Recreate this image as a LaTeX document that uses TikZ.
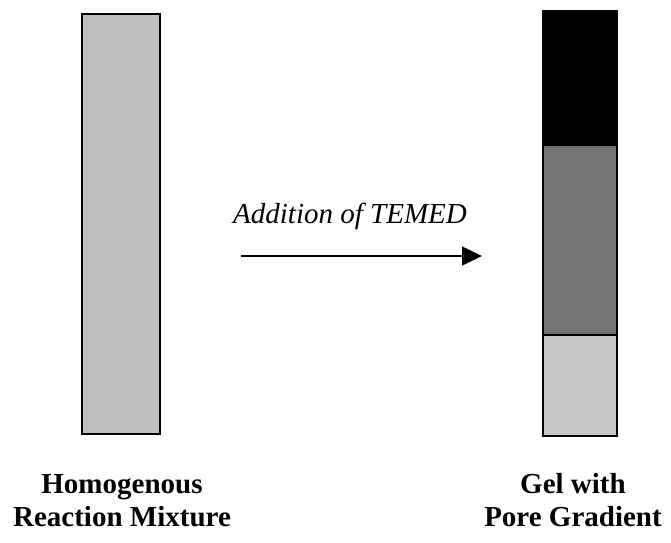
\documentclass[tikz,border=0pt]{standalone}
\usepackage{fontspec}
\setmainfont{Liberation Serif}
\usetikzlibrary{arrows.meta}
\definecolor{mixgray}{gray}{0.75}
\definecolor{densegray}{gray}{0.45}
\definecolor{loosegray}{gray}{0.78}
\tikzset{
  gelbar/.style={draw=black, line width=2.5pt},
  caption/.style={font=\fontsize{29}{33}\selectfont\bfseries, align=center, inner sep=0pt, anchor=base},
  steplabel/.style={font=\fontsize{29}{30}\selectfont\itshape, inner sep=0pt, anchor=base},
  flowarrow/.style={line width=1.6pt, -{Triangle[length=20pt,width=19pt]}}
}
\begin{document}
\begin{tikzpicture}[x=1pt,y=-1pt]
  \useasboundingbox (0,0) rectangle (671,542);

  % homogeneous mixture column
  \node[gelbar, fill=mixgray, rectangle, minimum width=78pt, minimum height=420pt, inner sep=0pt] (mix) at (121,224) {};

  % gradient gel column: dense, medium and loose zones
  \fill[black] (543,11) rectangle (617,146);
  \fill[densegray] (543,146) rectangle (617,335);
  \fill[loosegray] (543,335) rectangle (617,436);
  \draw[line width=2.5pt] (543,335) -- (617,335);
  \node[gelbar, rectangle, minimum width=74pt, minimum height=425pt, inner sep=0pt] (gel) at (580,223.5) {};

  % reaction step
  \node[steplabel] (temed) at (350,223) {Addition of TEMED};
  \coordinate (arrowstart) at (241,256);
  \coordinate (arrowend) at (482,256);
  \draw[flowarrow] (arrowstart) -- (arrowend);

  % captions (anchored at the baseline of the second line)
  \node[caption] (mixlabel) at (122,526) {Homogenous\\Reaction Mixture};
  \node[caption] (gellabel) at (573,526) {Gel with\\Pore Gradient};
\end{tikzpicture}
\end{document}
